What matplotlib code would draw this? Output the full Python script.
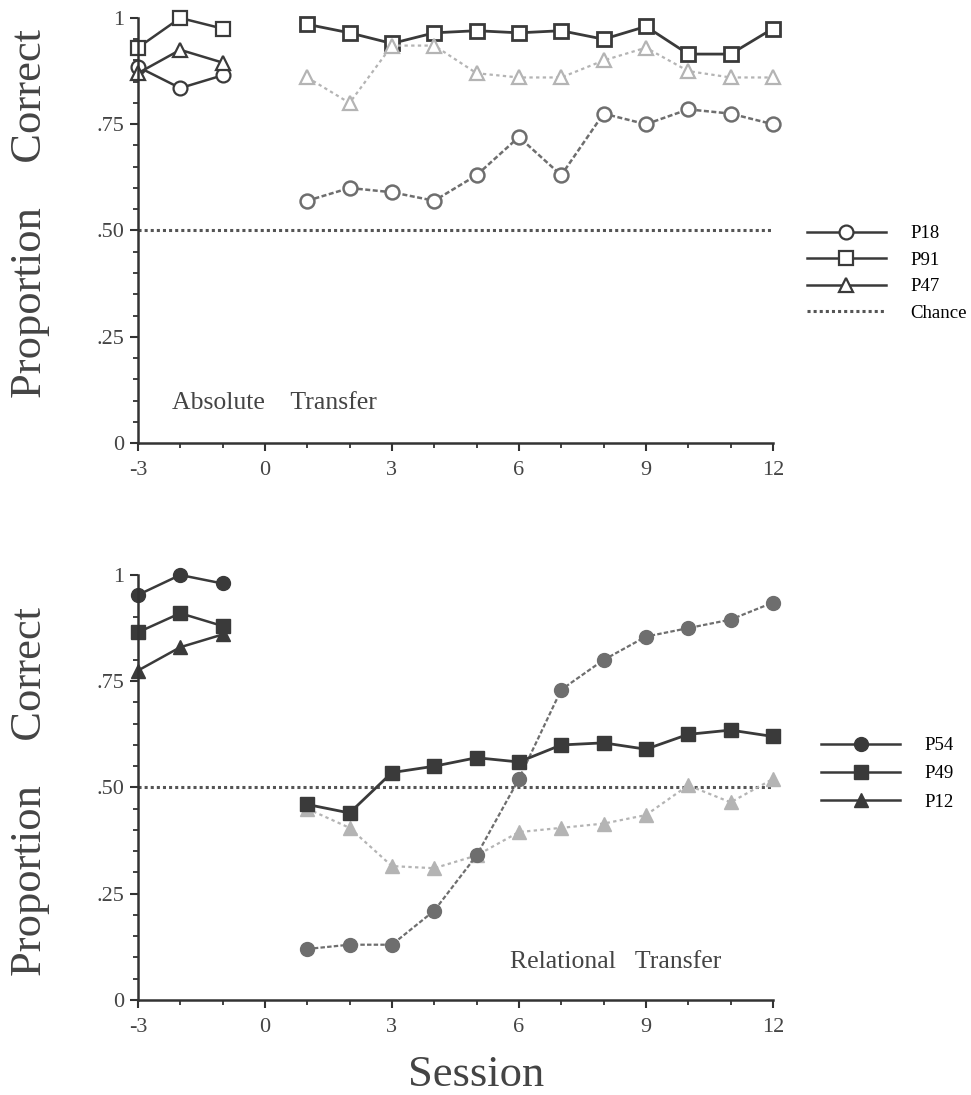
import matplotlib.pyplot as plt
from matplotlib.lines import Line2D
from matplotlib.ticker import MultipleLocator, FixedLocator

plt.rcParams['font.family'] = ['Liberation Serif', 'DejaVu Serif']
plt.rcParams['axes.unicode_minus'] = False

base_x = [-3, -2, -1]
sess = list(range(1, 13))

# Absolute transfer
p18_base = [0.885, 0.835, 0.865]
p18 = [0.57, 0.60, 0.59, 0.57, 0.63, 0.72, 0.63, 0.775, 0.75, 0.785, 0.775, 0.75]
p91_base = [0.93, 1.0, 0.975]
p91 = [0.985, 0.965, 0.94, 0.965, 0.97, 0.965, 0.97, 0.95, 0.98, 0.915, 0.915, 0.975]
p47_base = [0.87, 0.925, 0.895]
p47 = [0.86, 0.80, 0.935, 0.935, 0.87, 0.86, 0.86, 0.90, 0.93, 0.875, 0.86, 0.86]

# Relational transfer
p54_base = [0.953, 1.0, 0.98]
p54 = [0.12, 0.13, 0.13, 0.21, 0.34, 0.52, 0.73, 0.80, 0.855, 0.875, 0.895, 0.935]
p49_base = [0.865, 0.91, 0.88]
p49 = [0.46, 0.44, 0.535, 0.55, 0.57, 0.56, 0.60, 0.605, 0.59, 0.625, 0.635, 0.62]
p12_base = [0.775, 0.83, 0.86]
p12 = [0.45, 0.405, 0.315, 0.31, 0.34, 0.395, 0.405, 0.415, 0.435, 0.505, 0.465, 0.52]

chance_x = [-3, 12]
chance_y = [0.5, 0.5]

ytick_vals = [0, 0.25, 0.5, 0.75, 1]
ytick_labels = ['0', '.25', '.50', '.75', '1']

DARK = '#3a3a3a'
MID = '#6e6e6e'
LIGHT = '#b4b4b4'
TXT = '#444444'
chance_style = dict(color='#555555', lw=2.2, ls=(0, (1, 1)))

fig = plt.figure(figsize=(9.71, 10.95), dpi=100)
ax1 = fig.add_axes([0.142, 0.5954, 0.654, 0.3882])
ax2 = fig.add_axes([0.142, 0.0868, 0.654, 0.3881])


def style_axis(ax, label_y):
    ax.set_xlim(-3, 12)
    ax.set_ylim(0, 1)
    for s in ['top', 'right']:
        ax.spines[s].set_visible(False)
    for s in ['left', 'bottom']:
        ax.spines[s].set_color('#333333')
        ax.spines[s].set_linewidth(1.8)
    ax.xaxis.set_major_locator(MultipleLocator(3))
    ax.xaxis.set_minor_locator(MultipleLocator(1))
    ax.yaxis.set_major_locator(FixedLocator(ytick_vals))
    ax.set_yticklabels(ytick_labels)
    ax.yaxis.set_minor_locator(MultipleLocator(0.05))
    ax.tick_params(which='major', length=6, width=1.5, color='#333333',
                   labelsize=16, labelcolor=TXT, pad=4)
    ax.tick_params(axis='x', which='major', pad=7)
    ax.tick_params(which='minor', length=3.5, width=1.3, color='#333333')
    ax.set_ylabel('Proportion    Correct', fontsize=32, color=TXT)
    ax.yaxis.set_label_coords(-0.138, label_y)


style_axis(ax1, 0.54)
style_axis(ax2, 0.49)

# top panel: baseline
ms = 10
ax1.plot(base_x, p18_base, '-', color=DARK, lw=1.8, marker='o', ms=ms,
         mfc='white', mec=DARK, mew=1.6, clip_on=False)
ax1.plot(base_x, p91_base, '-', color=DARK, lw=1.8, marker='s', ms=ms,
         mfc='white', mec=DARK, mew=1.6, clip_on=False)
ax1.plot(base_x, p47_base, '-', color=DARK, lw=1.8, marker='^', ms=ms,
         mfc='white', mec=DARK, mew=1.6, clip_on=False)
# top panel: transfer
ax1.plot(sess, p18, color=MID, lw=1.8, ls=(0, (2, 1)), marker='o', ms=ms,
         mfc='white', mec=MID, mew=1.8, clip_on=False)
ax1.plot(sess, p91, color=DARK, lw=2.0, marker='s', ms=ms,
         mfc='white', mec=DARK, mew=2.0, clip_on=False)
ax1.plot(sess, p47, color=LIGHT, lw=1.6, ls=(0, (1.5, 1.5)), marker='^', ms=ms,
         mfc='white', mec=LIGHT, mew=1.6, clip_on=False)
ax1.plot(chance_x, chance_y, **chance_style)
ax1.text(-2.2, 0.08, 'Absolute    Transfer', fontsize=18.5, color=TXT)

# bottom panel: baseline
ax2.plot(base_x, p54_base, '-', color=DARK, lw=1.8, marker='o', ms=ms,
         mfc=DARK, mec=DARK, clip_on=False)
ax2.plot(base_x, p49_base, '-', color=DARK, lw=1.8, marker='s', ms=ms,
         mfc=DARK, mec=DARK, clip_on=False)
ax2.plot(base_x, p12_base, '-', color=DARK, lw=1.8, marker='^', ms=ms,
         mfc=DARK, mec=DARK, clip_on=False)
ax2.plot(chance_x, chance_y, **chance_style)
# bottom panel: transfer
ax2.plot(sess, p12, color=LIGHT, lw=1.6, ls=(0, (1.5, 1.5)), marker='^', ms=ms,
         mfc=LIGHT, mec=LIGHT, clip_on=False)
ax2.plot(sess, p54, color=MID, lw=1.6, ls=(0, (2, 1)), marker='o', ms=ms,
         mfc=MID, mec=MID, clip_on=False)
ax2.plot(sess, p49, color=DARK, lw=2.0, marker='s', ms=ms,
         mfc=DARK, mec=DARK, clip_on=False)
ax2.text(5.8, 0.075, 'Relational   Transfer', fontsize=18.5, color=TXT)
ax2.set_xlabel('Session', fontsize=32, color=TXT)
ax2.xaxis.set_label_coords(0.532, -0.13)

# legends
leg_top = [
    Line2D([], [], color=DARK, lw=1.8, marker='o', ms=ms, mfc='white', mec=DARK, mew=1.6),
    Line2D([], [], color=DARK, lw=1.8, marker='s', ms=ms, mfc='white', mec=DARK, mew=1.6),
    Line2D([], [], color=DARK, lw=1.8, marker='^', ms=ms, mfc='white', mec=DARK, mew=1.6),
    Line2D([], [], **chance_style),
]
fig.legend(leg_top, ['P18', 'P91', 'P47', 'Chance'], loc='upper left',
           bbox_to_anchor=(0.831, 1 - 225 / 1095), frameon=False, fontsize=13.5,
           handlelength=4.2, handletextpad=1.3, labelspacing=0.5,
           borderaxespad=0, borderpad=0)

leg_bot = [
    Line2D([], [], color=DARK, lw=1.8, marker='o', ms=ms, mfc=DARK, mec=DARK),
    Line2D([], [], color=DARK, lw=1.8, marker='s', ms=ms, mfc=DARK, mec=DARK),
    Line2D([], [], color=DARK, lw=1.8, marker='^', ms=ms, mfc=DARK, mec=DARK),
]
fig.legend(leg_bot, ['P54', 'P49', 'P12'], loc='upper left',
           bbox_to_anchor=(0.846, 1 - 737 / 1095), frameon=False, fontsize=13.5,
           handlelength=4.2, handletextpad=1.3, labelspacing=0.6,
           borderaxespad=0, borderpad=0)

fig.savefig('out.png', dpi=100)
